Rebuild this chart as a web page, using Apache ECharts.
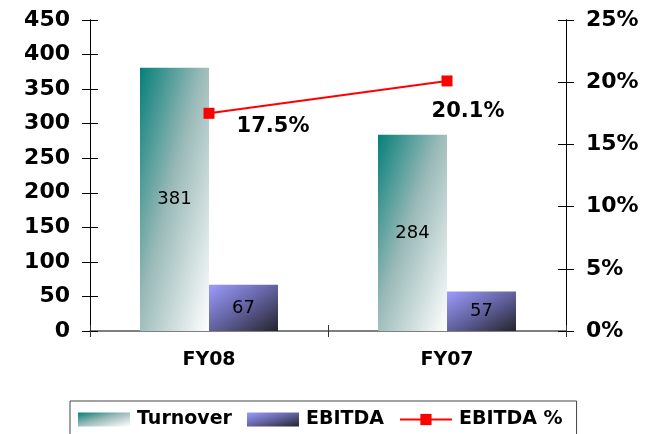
<!DOCTYPE html>
<html><head><meta charset="utf-8">
<script src="https://cdn.jsdelivr.net/npm/echarts@6/dist/echarts.min.js"></script>
<style>html,body{margin:0;padding:0;background:#fff}#c{width:663px;height:434px}</style>
</head><body><div id="c"></div>
<script>
var categories = ['FY08', 'FY07'];
var turnover = [381, 284];
var ebitda = [67, 57];
var ebitdaPct = [17.5, 20.1];
var leftTicks = {min: 0, max: 450, interval: 50};
var rightTicks = {min: 0, max: 25, interval: 5};

var pctLabelOffsets = [[64, 13], [21, 31]];
var font = 'DejaVu Sans';
var BAR_W = 69;
var chart = echarts.init(document.getElementById('c'), null, {renderer: 'canvas'});

var turnStops = [{offset: 0, color: '#057f7a'}, {offset: 0.45, color: '#98b9b7'}, {offset: 1, color: '#ffffff'}];
var ebStops = [{offset: 0, color: '#9c9cff'}, {offset: 0.5, color: '#6262a0'}, {offset: 1, color: '#24242c'}];
function grad(stops, w, h) {
  var s = h * h + w * w;
  return new echarts.graphic.LinearGradient(0, 0, 2 * h * h / s, 2 * w * w / s, stops);
}

var axisLbl = {color: '#000', fontFamily: font, fontWeight: 'bold', fontSize: 22};
function yAx(t, pos, inside, labels, fmt) {
  return {
    type: 'value', position: pos, min: t.min, max: t.max, interval: t.interval,
    axisLine: {show: true, lineStyle: {color: '#000', width: 1}},
    axisTick: {show: true, inside: inside, length: 8, lineStyle: {color: '#000'}},
    axisLabel: labels ? Object.assign({margin: 20, formatter: fmt}, axisLbl) : {show: false},
    splitLine: {show: false}
  };
}
function xAx(inside, labels) {
  return {
    type: 'category', data: categories, position: 'bottom',
    axisLine: {show: labels, lineStyle: {color: '#555', width: 1.5}},
    axisTick: {show: true, inside: inside, length: 6, lineStyle: {color: '#333'}},
    axisLabel: labels ? {color: '#000', fontFamily: font, fontWeight: 'bold', fontSize: 19, margin: 20} : {show: false}
  };
}

var option = {
  animation: false,
  grid: {left: 90, right: 97, top: 20, bottom: 103},
  legend: {
    left: 70, top: 401,
    padding: [9, 14, 14, 8], itemGap: 15, itemWidth: 52, itemHeight: 14,
    borderColor: '#444', borderWidth: 1,
    textStyle: {color: '#000', fontFamily: font, fontWeight: 'bold', fontSize: 19, padding: [0, 0, 0, 2]},
    data: [{name: 'Turnover', icon: 'rect'}, {name: 'EBITDA', icon: 'rect'}, {name: 'EBITDA %'}]
  },
  xAxis: [xAx(false, true), xAx(true, false)],
  yAxis: [
    yAx(leftTicks, 'left', false, true, '{value}'),
    yAx(rightTicks, 'right', false, true, '{value}%'),
    yAx(leftTicks, 'left', true, false),
    yAx(rightTicks, 'right', true, false)
  ],
  series: [
    {name: 'Turnover', type: 'bar', data: turnover, barWidth: BAR_W, barGap: '0%', barCategoryGap: '42%',
     itemStyle: {color: grad(turnStops, 52, 14)},
     label: {show: true, position: 'inside', color: '#000', fontFamily: font, fontSize: 18}},
    {name: 'EBITDA', type: 'bar', data: ebitda, barWidth: BAR_W, barGap: '0%',
     itemStyle: {color: grad(ebStops, 52, 14)},
     label: {show: true, position: 'inside', color: '#000', fontFamily: font, fontSize: 18}},
    {name: 'EBITDA %', type: 'line', yAxisIndex: 1,
     data: ebitdaPct.map(function (v, i) {
       return {value: v, label: {offset: pctLabelOffsets[i]}};
     }),
     symbol: 'rect', symbolSize: 11,
     lineStyle: {color: '#ff0000', width: 2}, itemStyle: {color: '#ff0000'},
     label: {show: true, position: 'inside', color: '#000', fontFamily: font, fontWeight: 'bold', fontSize: 21,
       formatter: function (p) { return p.value.toFixed(1) + '%'; }}}
  ]
};
chart.setOption(option);

function barH(v) {
  return Math.abs(chart.convertToPixel({yAxisIndex: 0}, 0) - chart.convertToPixel({yAxisIndex: 0}, v));
}
chart.setOption({
  series: [
    {data: turnover.map(function (v) { return {value: v, itemStyle: {color: grad(turnStops, BAR_W, barH(v))}}; })},
    {data: ebitda.map(function (v) { return {value: v, itemStyle: {color: grad(ebStops, BAR_W, barH(v))}}; })}
  ]
});
</script></body></html>
